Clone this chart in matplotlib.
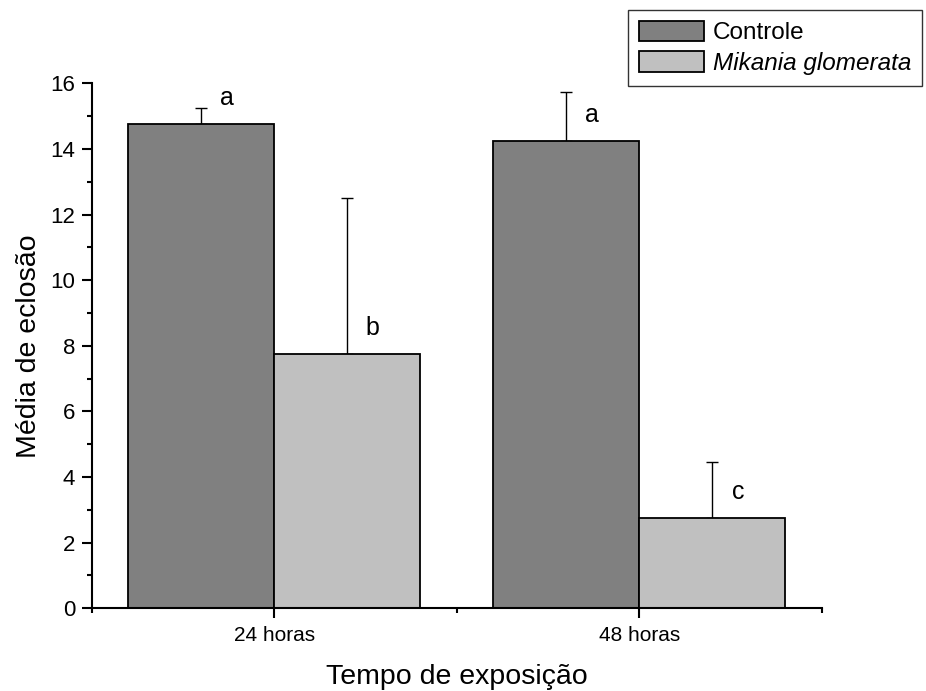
import matplotlib
matplotlib.use("Agg")
import matplotlib.pyplot as plt
from matplotlib.ticker import MultipleLocator
import numpy as np

plt.rcParams['font.family'] = ['Liberation Sans', 'DejaVu Sans']

# mean hatching and upper error per exposure time
grupos = ['24 horas', '48 horas']
controle = [14.75, 14.25]
controle_err = [0.5, 1.5]
mikania = [7.75, 2.75]
mikania_err = [4.75, 1.7]
letras_controle = ['a', 'a']
letras_mikania = ['b', 'c']

x = np.arange(1, len(grupos) + 1)
w = 0.4

fig = plt.figure(figsize=(9.26, 6.91), dpi=100)
ax = fig.add_axes([0.099, 0.1197, 0.7887, 0.7597])

b1 = ax.bar(x - w / 2, controle, w, color='#808080', edgecolor='black',
            linewidth=1.3, label='Controle', zorder=2)
b2 = ax.bar(x + w / 2, mikania, w, color='#c0c0c0', edgecolor='black',
            linewidth=1.3, label='Mikania glomerata', zorder=2)

# only the upper half of the error bars is drawn
for xs, ys, es in [(x - w / 2, controle, controle_err), (x + w / 2, mikania, mikania_err)]:
    ax.errorbar(xs, ys, yerr=[np.zeros(len(es)), es], fmt='none', ecolor='black',
                elinewidth=1.0, capsize=4.5, capthick=1.0, zorder=1)

for xs, ys, ls in [(x - w / 2, controle, letras_controle), (x + w / 2, mikania, letras_mikania)]:
    for xi, yi, l in zip(xs, ys, ls):
        ax.text(xi + 0.07, yi + 0.8, l, fontsize=18, ha='center', va='center')

ax.set_xlim(0.5, 2.5)
ax.set_ylim(0, 16)
ax.set_xticks(x)
ax.set_xticklabels(grupos)
ax.set_xticks([0.5, 1.5, 2.5], minor=True)
ax.yaxis.set_major_locator(MultipleLocator(2))
ax.yaxis.set_minor_locator(MultipleLocator(1))

for s in ['top', 'right']:
    ax.spines[s].set_visible(False)
for s in ['left', 'bottom']:
    ax.spines[s].set_linewidth(1.5)

ax.tick_params(which='major', direction='out', length=7, width=1.5, pad=5)
ax.tick_params(axis='y', which='major', labelsize=16)
ax.tick_params(axis='x', which='major', labelsize=15, pad=6)
ax.tick_params(which='minor', direction='out', length=3.5, width=1.5)

ax.set_ylabel('Média de eclosão', fontsize=20.5, labelpad=6)
ax.set_xlabel('Tempo de exposição', fontsize=20.5, labelpad=13.5)

leg = fig.legend(handles=[b1, b2], labels=['Controle', 'Mikania glomerata'],
                 loc='upper right', bbox_to_anchor=(0.996, 0.986),
                 bbox_transform=fig.transFigure, borderaxespad=0,
                 fontsize=17.5, frameon=True, fancybox=False, edgecolor='black',
                 handlelength=2.7, handleheight=0.9, handletextpad=0.35,
                 borderpad=0.45, labelspacing=0.3)
leg.get_frame().set_linewidth(1.0)
leg.get_texts()[1].set_style('italic')

fig.savefig('out.png', dpi=100)
